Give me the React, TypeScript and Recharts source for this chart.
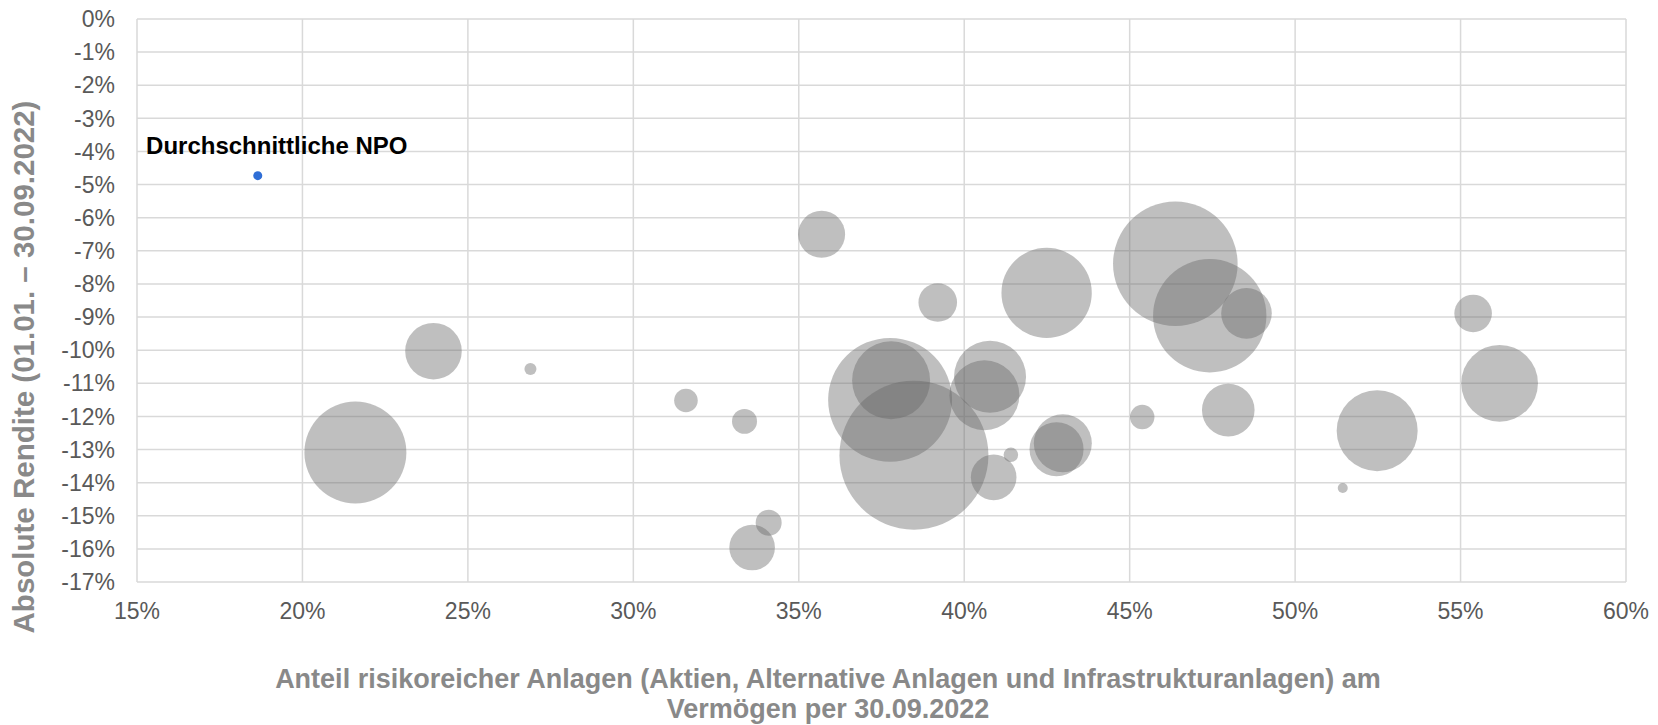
import {
  ScatterChart,
  Scatter,
  XAxis,
  YAxis,
  ZAxis,
  CartesianGrid,
  Label,
} from "recharts";

// Anteil risikoreicher Anlagen (%), absolute Rendite (%), Blasengrösse (Vermögen, relativ)
const riskShare = [
  21.6, 23.96, 26.89, 31.59, 33.36, 34.09, 33.59, 35.69, 37.76, 37.79, 38.48, 39.2, 40.78, 40.61,
  40.89, 41.41, 42.98, 42.79, 42.49, 46.38, 47.42, 48.53, 45.38, 47.98, 51.44, 52.48, 55.38, 56.18,
];
const absReturn = [
  -13.09, -10.03, -10.57, -11.52, -12.15, -15.21, -15.96, -6.5, -11.5, -10.91, -13.17, -8.56, -10.8,
  -11.36, -13.84, -13.16, -12.81, -12.99, -8.27, -7.39, -8.96, -8.89, -12.02, -11.81, -14.16, -12.43,
  -8.89, -11.0,
];
const bubbleSize = [
  26.0, 8.0, 0.36, 1.39, 1.56, 1.69, 5.2, 5.52, 38.4, 15.2, 55.5, 3.72, 12.96, 12.25, 5.2, 0.53, 8.41,
  7.29, 20.4, 38.8, 32.1, 6.4, 1.49, 6.92, 0.25, 16.4, 3.53, 14.7,
];

const npoLabel = "Durchschnittliche NPO";
const npoShare = [18.65];
const npoReturn = [-4.73];

const xTicks = [15, 20, 25, 30, 35, 40, 45, 50, 55, 60];
const yTicks = [0, -1, -2, -3, -4, -5, -6, -7, -8, -9, -10, -11, -12, -13, -14, -15, -16, -17];

const yTitle = "Absolute Rendite (01.01. – 30.09.2022)";
const xTitle1 = "Anteil risikoreicher Anlagen (Aktien, Alternative Anlagen und Infrastrukturanlagen) am";
const xTitle2 = "Vermögen per 30.09.2022";

const bubbles = riskShare.map((x, i) => ({ x, y: absReturn[i], z: bubbleSize[i] }));
const npo = npoShare.map((x, i) => ({ x, y: npoReturn[i], z: 1, name: npoLabel }));

const tickStyle = { fontSize: 23, fill: "#595959" };
const titleColor = "#898989";

const NpoDot = (props: any) => {
  const { cx, cy, payload } = props;
  return (
    <g>
      <circle cx={cx} cy={cy} r={4.5} fill="#2f6ed6" />
      <text
        x={cx + 19}
        y={cy - 22}
        textAnchor="middle"
        fontSize={24}
        fontWeight="bold"
        fill="#000000"
      >
        {payload.name}
      </text>
    </g>
  );
};

export default function App() {
  return (
    <div style={{ width: 1658, height: 725, fontFamily: "'Liberation Sans', Arial, sans-serif" }}>
      <style>{"body{margin:0}"}</style>
      <ScatterChart width={1658} height={725} margin={{ top: 19, right: 32, bottom: 0, left: 0 }}>
        <CartesianGrid stroke="#d9d9d9" strokeWidth={1.5} />
        <XAxis
          type="number"
          dataKey="x"
          domain={[15, 60]}
          ticks={xTicks}
          height={143}
          tick={tickStyle}
          tickFormatter={(v) => `${v}%`}
          axisLine={false}
          tickLine={false}
          tickSize={0}
          tickMargin={21}
          interval={0}
        >
          <Label
            content={() => (
              <text textAnchor="middle" fontSize={27} fontWeight="bold" fill={titleColor}>
                <tspan x={828} y={688}>{xTitle1}</tspan>
                <tspan x={828} y={718}>{xTitle2}</tspan>
              </text>
            )}
          />
        </XAxis>
        <YAxis
          type="number"
          dataKey="y"
          domain={[-17, 0]}
          ticks={yTicks}
          width={137}
          tick={tickStyle}
          tickFormatter={(v) => `${v}%`}
          axisLine={false}
          tickLine={false}
          tickSize={0}
          tickMargin={22}
          interval={0}
        >
          <Label
            content={() => (
              <text
                x={23.5}
                y={367}
                transform="rotate(-90 23.5 367)"
                textAnchor="middle"
                dominantBaseline="central"
                fontSize={29.5}
                fontWeight="bold"
                fill={titleColor}
              >
                {yTitle}
              </text>
            )}
          />
        </YAxis>
        <ZAxis type="number" dataKey="z" domain={[0, 60]} range={[0, 6000 * Math.PI]} />
        <ZAxis zAxisId="npo" type="number" dataKey="z" range={[64, 64]} />
        <Scatter
          data={bubbles}
          fill="#666666"
          fillOpacity={0.42}
          shape="circle"
          isAnimationActive={false}
        />
        <Scatter data={npo} zAxisId="npo" shape={NpoDot} isAnimationActive={false} />
      </ScatterChart>
    </div>
  );
}
